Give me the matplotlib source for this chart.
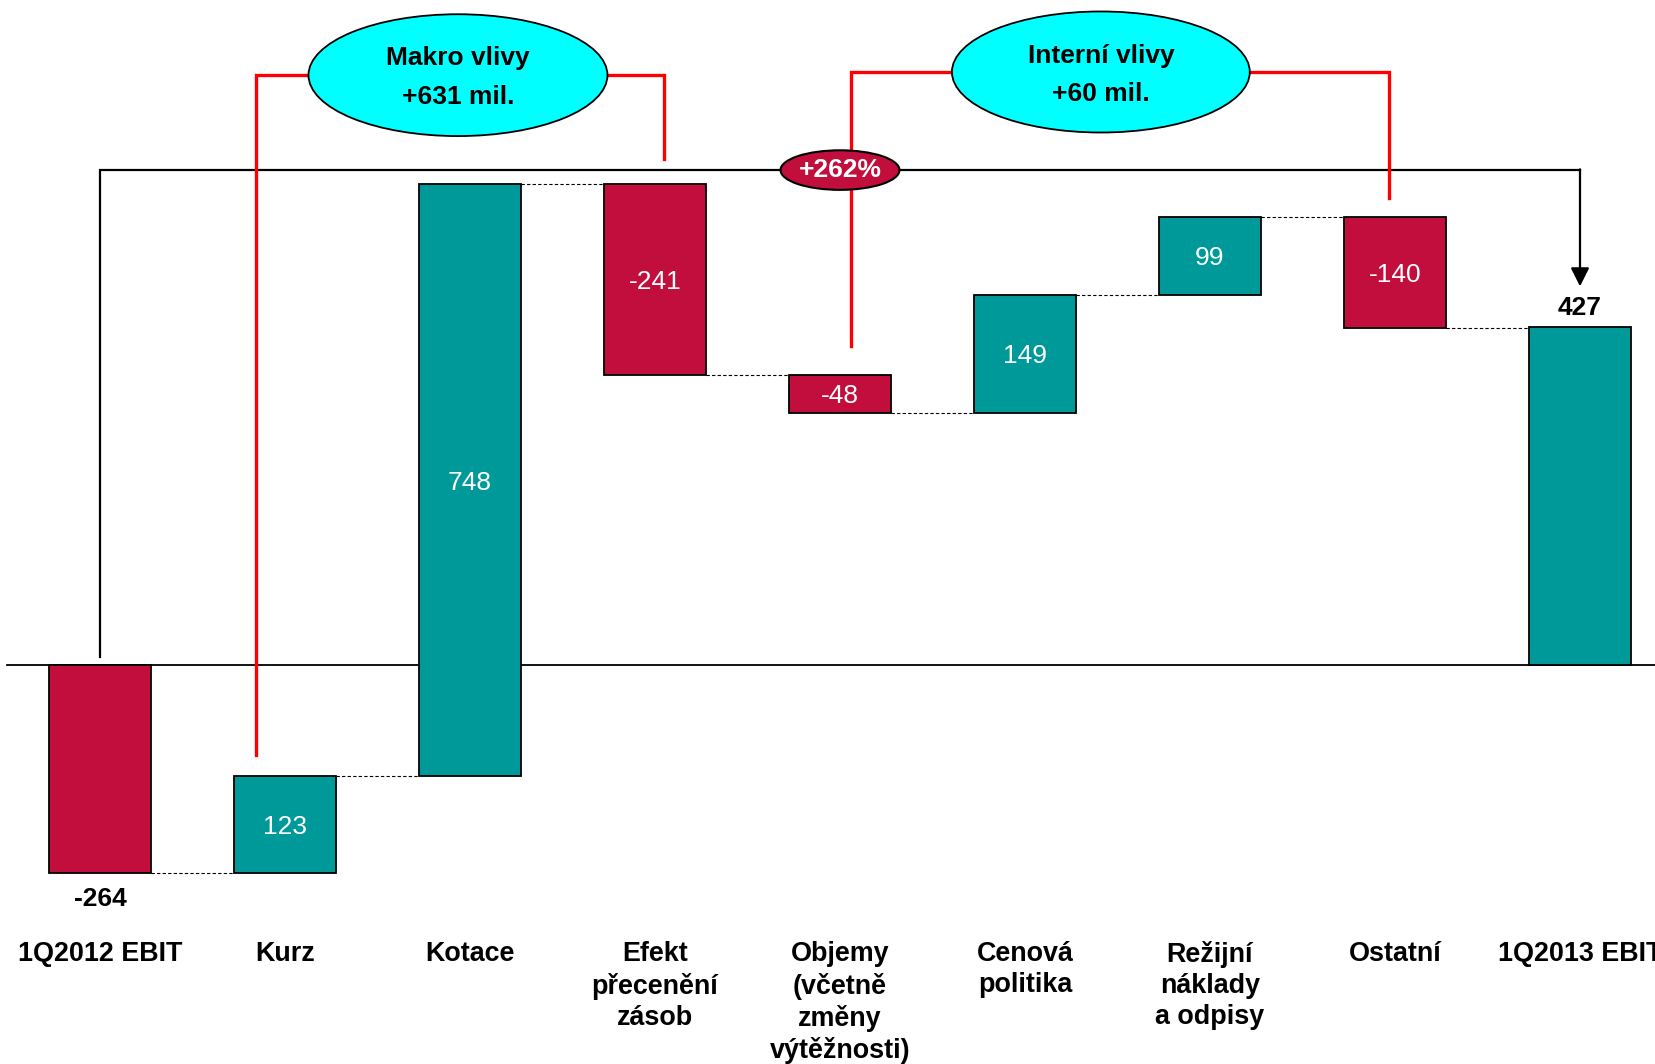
import numpy as np
import matplotlib.pyplot as plt
from matplotlib.patches import Ellipse

# data
categories = ['1Q2012 EBIT', 'Kurz', 'Kotace', 'Efekt\npřecenění\nzásob',
              'Objemy\n(včetně\nzměny\nvýtěžnosti)', 'Cenová\npolitika',
              'Režijní\nnáklady\na odpisy', 'Ostatní', '1Q2013 EBIT']
start_value = -264
steps = [123, 748, -241, -48, 149, 99, -140]
end_value = 427
macro_text = 'Makro vlivy\n+631 mil.'
internal_text = 'Interní vlivy\n+60 mil.'
growth_text = '+262%'

RED = '#C20E3C'
TEAL = '#009999'
CYAN = '#00FFFF'
LINE_RED = '#FF0000'

plt.rcParams['font.family'] = ['Liberation Sans', 'DejaVu Sans']

fig = plt.figure(figsize=(16.56, 10.64), dpi=100)
ax = fig.add_axes([0, 0, 1, 1])
ax.set_xlim(-0.5405, 8.4108)
ax.set_ylim(-505, 840)
ax.axis('off')

width = 0.55
half = width / 2

# zero line
ax.plot([-0.5, 9], [0, 0], color='black', lw=1.3, zorder=1)

# bars
bottoms = [0]
heights = [start_value]
colors = [RED if start_value < 0 else TEAL]
level = start_value
for s in steps:
    bottoms.append(level)
    heights.append(s)
    colors.append(TEAL if s > 0 else RED)
    level += s
bottoms.append(0)
heights.append(end_value)
colors.append(TEAL if end_value > 0 else RED)

x = np.arange(len(categories))
ax.bar(x, heights, bottom=bottoms, width=width, color=colors,
       edgecolor='black', linewidth=1.3, zorder=3)

# dashed connectors
levels = [b + h for b, h in zip(bottoms, heights)]
for i in range(len(x) - 1):
    ax.plot([x[i] + half, x[i + 1] - half], [levels[i], levels[i]],
            color='black', lw=0.8, ls=(0, (3, 2)), zorder=2)

# value labels
for i in range(1, len(x) - 1):
    ax.text(x[i], bottoms[i] + heights[i] / 2 - 3, str(steps[i - 1]),
            ha='center', va='center', color='white', fontsize=19, zorder=4)
ax.text(x[0], start_value - 33, str(start_value), ha='center', va='center',
        fontsize=19, fontweight='bold')
ax.text(x[-1], end_value + 24, str(end_value), ha='center', va='center',
        fontsize=19, fontweight='bold')

# category labels
for i, c in enumerate(categories):
    ax.text(x[i], -350, c, ha='center', va='top', fontsize=19.4,
            fontweight='bold', linespacing=1.25)

# black bracket with arrow
top_y = 625
ax.plot([x[0], x[0], x[-1]], [9, top_y, top_y], color='black', lw=1.6,
        zorder=5, solid_joinstyle='miter')
ax.annotate('', xy=(x[-1], 478), xytext=(x[-1], top_y + 1),
            arrowprops=dict(arrowstyle='-|>', color='black', lw=1.6,
                            mutation_scale=28, shrinkA=0, shrinkB=0),
            zorder=5)

# red brackets
ax.plot([x[1] - 0.157, x[1] - 0.157, x[3] + 0.05, x[3] + 0.05],
        [levels[1] + 27, 745, 745, top_y + 14], color=LINE_RED, lw=2.4,
        zorder=6, solid_joinstyle='miter')
ax.plot([x[4] + 0.06, x[4] + 0.06, x[7] - 0.03, x[7] - 0.03],
        [levels[4] + 85, 749, 749, levels[6] + 24], color=LINE_RED, lw=2.4,
        zorder=6, solid_joinstyle='miter')

# ellipses
e1 = Ellipse((1.935, 745), 1.616, 154, facecolor=CYAN, edgecolor='black',
             lw=1.3, zorder=7)
ax.add_patch(e1)
ax.text(1.935, 742, macro_text, ha='center', va='center', fontsize=19,
        fontweight='bold', linespacing=1.75, zorder=8)
e2 = Ellipse((5.41, 749), 1.61, 153, facecolor=CYAN, edgecolor='black',
             lw=1.3, zorder=7)
ax.add_patch(e2)
ax.text(5.41, 745, internal_text, ha='center', va='center', fontsize=19,
        fontweight='bold', linespacing=1.75, zorder=8)
e3 = Ellipse((4.0, top_y), 0.643, 50, facecolor=RED, edgecolor='black',
             lw=1.5, zorder=7)
ax.add_patch(e3)
ax.text(4.0, top_y, growth_text, ha='center', va='center', fontsize=19,
        fontweight='bold', color='white', zorder=8)

fig.savefig('out.png', dpi=100)
